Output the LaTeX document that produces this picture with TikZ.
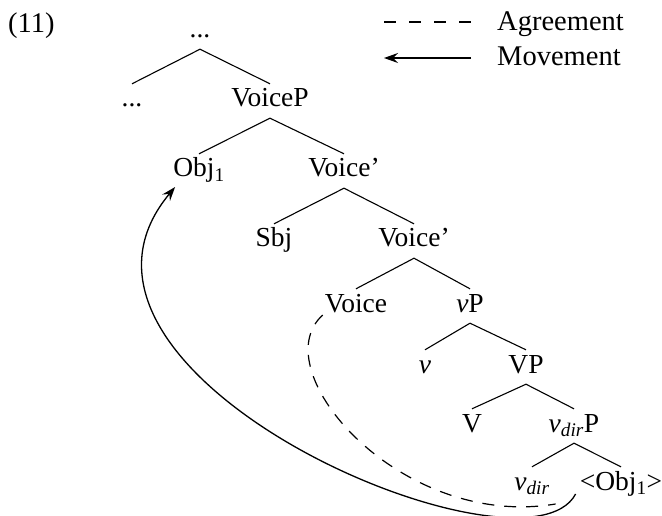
\documentclass[tikz,border=0pt]{standalone}
\usepackage{fontspec}
\setmainfont{Liberation Serif}
\usetikzlibrary{arrows.meta,calc}
\begin{document}
\begin{tikzpicture}[x=1pt,y=-1pt,
  lbl/.style={font=\fontsize{27.5}{33}\selectfont, inner xsep=0pt, inner ysep=5pt,
              text height=18pt, text depth=6pt, anchor=base},
  side/.style={font=\fontsize{28.5}{34}\selectfont, inner sep=0pt, anchor=base west},
  edge/.style={line width=1.1pt},
  agree/.style={line width=1.2pt, dash pattern=on 12pt off 10pt},
  move/.style={line width=1.3pt, -{Stealth[length=14pt,width=10pt,inset=5pt]}}]
\useasboundingbox (0,0) rectangle (662,516);

% example number and legend
\node[side] (ex)  at (8,33)   {(11)};
\node[side] (agr) at (497,31) {Agreement};
\node[side] (mov) at (497,66) {Movement};
\coordinate (agrA) at ($(agr.base west)+(-113,-9)$);
\coordinate (agrB) at ($(agr.base west)+(-26,-9)$);
\coordinate (movA) at ($(mov.base west)+(-26,-8)$);
\coordinate (movB) at ($(mov.base west)+(-113,-8)$);
\draw[agree, dash pattern=on 12pt off 13pt] (agrA) -- (agrB);
\draw[move] (movA) -- (movB);

% tree labels (positioned on their baselines)
\node[lbl] (top)    at (200,38)  {...};
\node[lbl] (dotsL)  at (132,107) {...};
\node[lbl] (voiceP) at (270,107) {VoiceP};
\node[lbl] (obj)    at (199,177) {Obj\textsubscript{1}};
\node[lbl] (vbarA)  at (344,177) {Voice'};
\node[lbl] (sbj)    at (274,247) {Sbj};
\node[lbl] (vbarB)  at (414,247) {Voice'};
\node[lbl] (voice)  at (356,312) {Voice};
\node[lbl] (vP)     at (470,312) {\textit{v}P};
\node[lbl] (v)      at (425,373) {\textit{v}};
\node[lbl] (VP)     at (526,373) {VP};
\node[lbl] (V)      at (472,432) {V};
\node[lbl] (vdirP)  at (574,432) {\textit{v}\textsubscript{\textit{dir}}P};
\node[lbl] (vdir)   at (532,490) {\textit{v}\textsubscript{\textit{dir}}};
\node[lbl] (objLow) at (621,490) {<Obj\textsubscript{1}>};

% branches
\foreach \p/\c in {top/dotsL, top/voiceP, voiceP/obj, voiceP/vbarA,
                   vbarA/sbj, vbarA/vbarB, vbarB/voice, vbarB/vP,
                   vP/v, vP/VP, VP/V, VP/vdirP, vdirP/vdir, vdirP/objLow}
  \draw[edge] (\p.south) -- (\c.north);

% agreement and movement
\draw[agree] ($(voice.base west)+(-2,3)$)
  .. controls (262,370) and (400,530) .. ($(objLow.base west)+(-24,14)$);
\draw[move] ($(objLow.base west)+(-4,4)$)
  .. controls (525,590) and (18,375) .. ($(obj.base west)+(2,10)$);
\end{tikzpicture}
\end{document}
